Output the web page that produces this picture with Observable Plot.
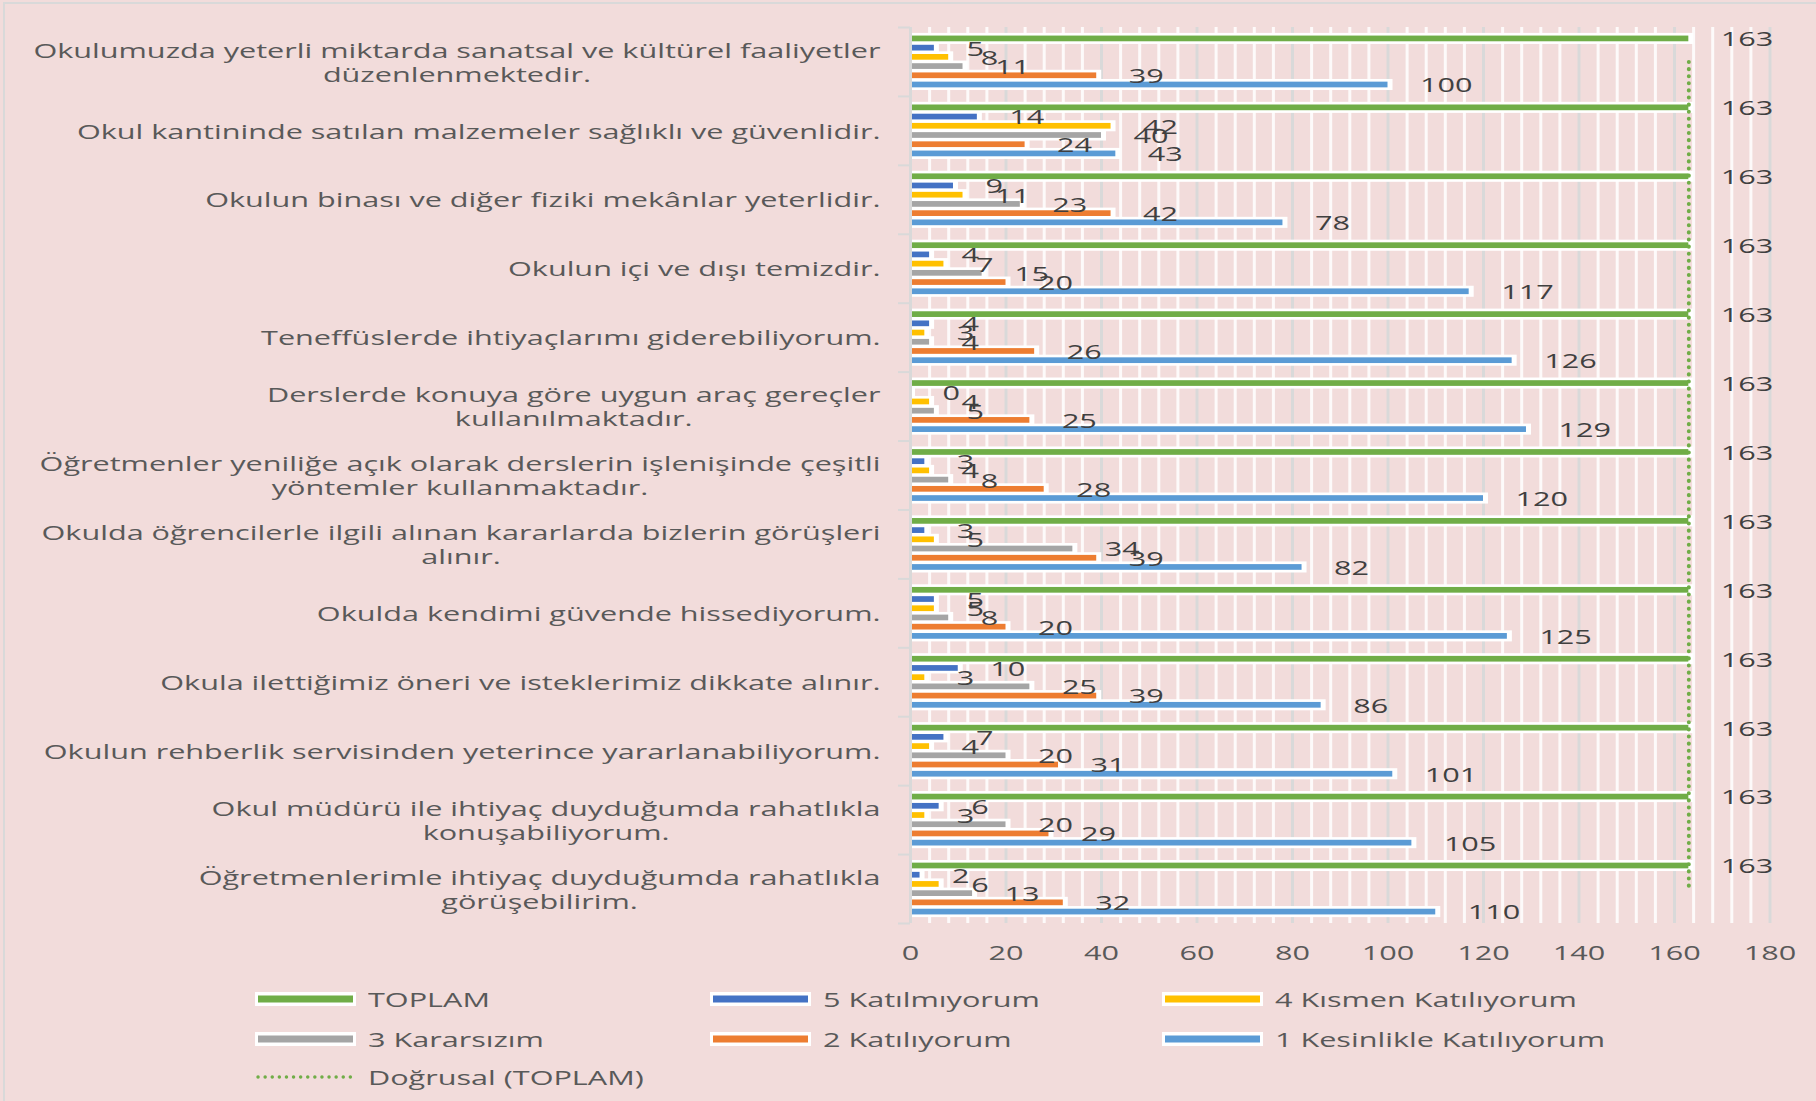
<!DOCTYPE html>
<html><head><meta charset="utf-8">
<script src="https://cdn.jsdelivr.net/npm/d3@7"></script>
<script src="https://cdn.jsdelivr.net/npm/@observablehq/plot@0.6"></script>
<style>
html,body{margin:0;padding:0;background:#f2dcdb;}
#frame{position:relative;width:1816px;height:1101px;overflow:hidden;background:#f2dcdb;font-family:"Open Sans",sans-serif;}
#border{position:absolute;left:3px;top:2px;width:1840px;height:1140px;border-left:2px solid #d9d9d9;border-top:2px solid #d9d9d9;pointer-events:none;}
#chart{position:absolute;left:0;top:0;}
#legend{position:absolute;left:0;top:975px;width:1816px;height:126px;}
.item{position:absolute;display:flex;align-items:center;height:30px;font-size:20px;color:#595959;white-space:nowrap;}
.item svg{display:block;margin-right:12px;}
.item span{display:inline-block;transform-origin:0 50%;}
</style></head>
<body>
<div id="frame"><div id="chart"></div><div id="legend"></div><div id="border"></div></div>
<script>
// ---------- DATA ----------
const categories = [
  "Okulumuzda yeterli miktarda sanatsal ve kültürel faaliyetler\ndüzenlenmektedir.",
  "Okul kantininde satılan malzemeler sağlıklı ve güvenlidir.",
  "Okulun binası ve diğer fiziki mekânlar yeterlidir.",
  "Okulun içi ve dışı temizdir.",
  "Teneffüslerde ihtiyaçlarımı giderebiliyorum.",
  "Derslerde konuya göre uygun araç gereçler\nkullanılmaktadır.",
  "Öğretmenler yeniliğe açık olarak derslerin işlenişinde çeşitli\nyöntemler kullanmaktadır.",
  "Okulda öğrencilerle ilgili alınan kararlarda bizlerin görüşleri\nalınır.",
  "Okulda kendimi güvende hissediyorum.",
  "Okula ilettiğimiz öneri ve isteklerimiz dikkate alınır.",
  "Okulun rehberlik servisinden yeterince yararlanabiliyorum.",
  "Okul müdürü ile ihtiyaç duyduğumda rahatlıkla\nkonuşabiliyorum.",
  "Öğretmenlerimle ihtiyaç duyduğumda rahatlıkla\ngörüşebilirim."
];
const seriesNames = ["TOPLAM", "5 Katılmıyorum", "4 Kısmen Katılıyorum", "3 Kararsızım", "2 Katılıyorum", "1 Kesinlikle Katılıyorum"];
const seriesColors = ["#70ad47", "#4472c4", "#ffc000", "#a5a5a5", "#ed7d31", "#5b9bd5"];
const toplam        = [163, 163, 163, 163, 163, 163, 163, 163, 163, 163, 163, 163, 163];
const katilmiyorum5 = [5, 14, 9, 4, 4, 0, 3, 3, 5, 10, 7, 6, 2];
const kismen4       = [8, 42, 11, 7, 3, 4, 4, 5, 5, 3, 4, 3, 6];
const kararsiz3     = [11, 40, 23, 15, 4, 5, 8, 34, 8, 25, 20, 20, 13];
const katiliyorum2  = [39, 24, 42, 20, 26, 25, 28, 39, 20, 39, 31, 29, 32];
const kesinlikle1   = [100, 43, 78, 117, 126, 129, 120, 82, 125, 86, 101, 105, 110];
const xTicks = [0, 20, 40, 60, 80, 100, 120, 140, 160, 180];
const trendName = "Doğrusal (TOPLAM)";

// ---------- LAYOUT ----------
const G = 7.48;          // group step, in bar steps
const S = 1.53;          // horizontal text stretch
const seriesValues = [toplam, katilmiyorum5, kismen4, kararsiz3, katiliyorum2, kesinlikle1];
const rows = categories.flatMap((c, i) => seriesValues.map((vals, j) => ({
  i, j, value: vals[i], yc: (i + 0.5) * G + (j - 2.5), color: seriesColors[j]
})));
// linear trend of TOPLAM
const idx = toplam.map((d, i) => i);
const mx = d3.mean(idx), my = d3.mean(toplam);
const slope = d3.sum(idx, i => (i - mx) * (toplam[i] - my)) / d3.sum(idx, i => (i - mx) ** 2);
const intercept = my - slope * mx;
const trend = idx.map(i => ({x: intercept + slope * i, y: (i + 0.5) * G}));
const centers = categories.map((c, i) => (i + 0.5) * G);
const bounds = d3.range(categories.length + 1).map(i => i * G);

const plot = Plot.plot({
  width: 1816, height: 975,
  marginLeft: 910, marginRight: 46.5, marginTop: 27, marginBottom: 52,
  x: {domain: [0, 180]},
  y: {domain: [0, categories.length * G], reverse: true},
  style: {background: "transparent", fontFamily: "Open Sans", fontSize: "20px", color: "#595959"},
  marks: [
    Plot.gridX({ticks: d3.range(0, 181, 4).filter(d => d % 20 !== 0), stroke: "#ffffff", strokeOpacity: 0.85, strokeWidth: 3}),
    Plot.gridX({ticks: xTicks.slice(1), stroke: "#d9d9d9", strokeOpacity: 1, strokeWidth: 3}),
    Plot.rect(rows, {x1: 0, x2: "value", y1: d => d.yc - 0.6, y2: d => d.yc + 0.6, fill: "white", insetRight: -5}),
    Plot.rect(rows, {x1: 0, x2: "value", y1: d => d.yc - 0.31, y2: d => d.yc + 0.31, fill: "color"}),
    Plot.ruleX([0], {stroke: "#d9d9d9", strokeWidth: 3}),
    Plot.line(trend, {x: "x", y: "y", stroke: "#70ad47", strokeWidth: 4, strokeDasharray: "0.1 7", strokeLinecap: "round"}),
    Plot.text(rows, {x: "value", y: "yc", text: d => String(d.value), textAnchor: "start", dx: 32, dy: 1, fill: "#404040", fontSize: 20}),
    Plot.axisX({ticks: xTicks, tickSize: 0, tickPadding: 22, fontSize: 20, color: "#595959"}),
    Plot.axisY({ticks: bounds, tickSize: 12, tickFormat: () => "", stroke: "#d9d9d9", strokeWidth: 2}),
    Plot.axisY({ticks: centers, tickSize: 0, tickPadding: 30, fontSize: 20, lineHeight: 1.2, fill: "#595959",
      tickFormat: d => categories[Math.round(d / G - 0.5)]})
  ]
});
document.getElementById("chart").appendChild(plot);

// stretch text horizontally like the reference, centre wrapped lines
plot.querySelectorAll("text").forEach(t => {
  const spans = t.querySelectorAll("tspan");
  if (spans.length > 1) {
    const ws = [];
    spans.forEach(s => { const w = s.getComputedTextLength(); ws.push(w * S); s.setAttribute("textLength", w * S); s.setAttribute("lengthAdjust", "spacingAndGlyphs"); });
    const maxW = d3.max(ws);
    spans.forEach((s, k) => s.setAttribute("x", -(maxW - ws[k]) / 2));
  } else {
    const w = t.getComputedTextLength();
    if (w > 0) { t.setAttribute("textLength", w * S); t.setAttribute("lengthAdjust", "spacingAndGlyphs"); }
  }
});

// ---------- LEGEND ----------
const legend = document.getElementById("legend");
const colLeft = [255, 710, 1162], rowTop = [9, 49, 87];
const entries = seriesNames.map((n, j) => ({name: n, color: seriesColors[j], dotted: false}))
  .concat([{name: trendName, color: "#70ad47", dotted: true}]);
entries.forEach((e, k) => {
  const div = document.createElement("div");
  div.className = "item";
  div.style.left = colLeft[k % 3] + "px";
  div.style.top = rowTop[Math.floor(k / 3)] + "px";
  const sw = e.dotted
    ? `<svg width="101" height="14"><line x1="3" x2="100" y1="7" y2="7" stroke="${e.color}" stroke-width="3.4" stroke-dasharray="0.1 7" stroke-linecap="round"/></svg>`
    : `<svg width="101" height="14"><rect x="0" y="0" width="101" height="14" fill="white"/><rect x="3" y="3.5" width="95" height="7" fill="${e.color}"/></svg>`;
  div.innerHTML = sw + `<span style="transform:scaleX(${S})">${e.name}</span>`;
  legend.appendChild(div);
});
</script>
</body></html>
